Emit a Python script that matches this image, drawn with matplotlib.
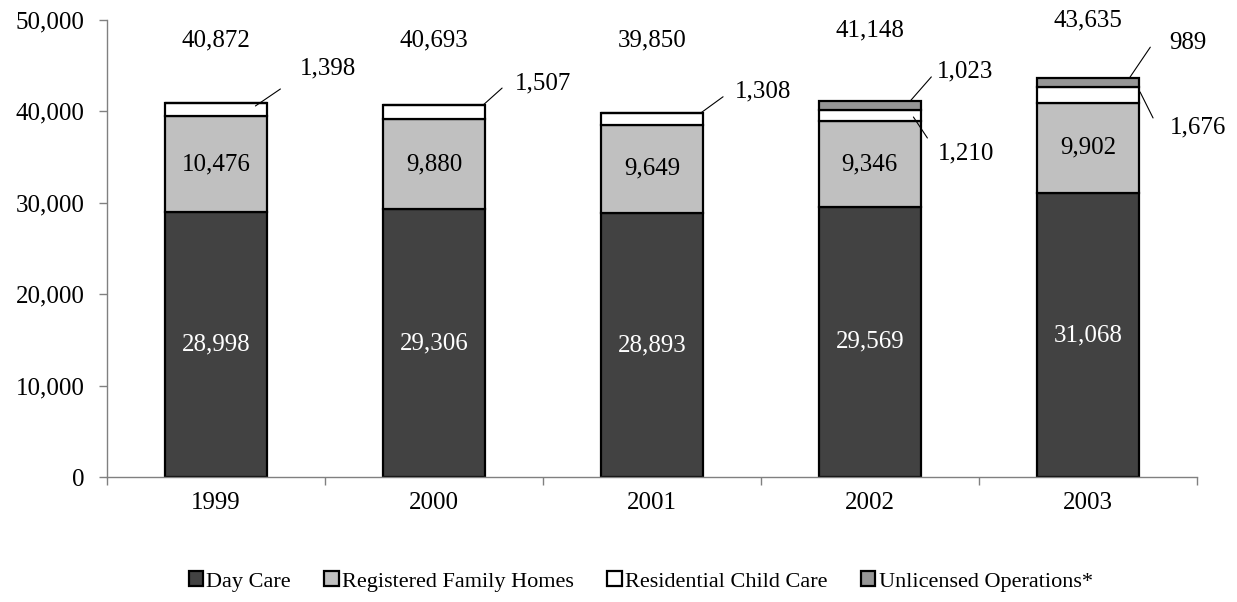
import matplotlib
matplotlib.use('Agg')
import matplotlib.pyplot as plt
import numpy as np
from matplotlib.patches import Patch

plt.rcParams['font.family'] = ['Liberation Serif', 'DejaVu Serif']

# data
years = ['1999', '2000', '2001', '2002', '2003']
day_care = [28998, 29306, 28893, 29569, 31068]
family_homes = [10476, 9880, 9649, 9346, 9902]
residential = [1398, 1507, 1308, 1210, 1676]
unlicensed = [0, 0, 0, 1023, 989]

series_names = ['Day Care', 'Registered Family Homes', 'Residential Child Care', 'Unlicensed Operations*']
colors = ['#424242', '#c0c0c0', '#ffffff', '#969696']

fs = 18
fig = plt.figure(figsize=(12.37, 6.02), dpi=100)
ax = fig.add_axes([0.0865, 0.2076, 0.881, 0.7592])

x = np.arange(len(years))
w = 0.47
all_series = [day_care, family_homes, residential, unlicensed]
bottoms = np.zeros(len(years))
seg_bottoms = []
for vals, c in zip(all_series, colors):
    vals = np.array(vals, dtype=float)
    ax.bar(x, vals, w, bottom=bottoms, color=c, edgecolor='black', linewidth=1.6, zorder=2)
    seg_bottoms.append(bottoms.copy())
    bottoms = bottoms + vals
totals = bottoms

# labels inside bars
for i in range(len(years)):
    ax.text(x[i], day_care[i] / 2, f'{day_care[i]:,}', ha='center', va='center',
            color='white', fontsize=fs)
    ax.text(x[i], day_care[i] + family_homes[i] / 2, f'{family_homes[i]:,}',
            ha='center', va='center', color='black', fontsize=fs)

# totals above bars
total_label_y = [47800, 47800, 47800, 48900, 50000]
for i in range(len(years)):
    ax.text(x[i], total_label_y[i], f'{int(totals[i]):,}', ha='center', va='center', fontsize=fs)

# leader-line labels: (bar, series idx, x frac of half width, y frac of segment, line end, text pos)
leaders = [
    (0, 2, 0.77, 0.8, (25, 17), (73, 38)),
    (1, 2, 0.96, 1.0, (19, 17), (60, 22)),
    (2, 2, 0.96, 1.0, (22, 16), (62, 21)),
    (3, 3, 0.79, 1.0, (21, 24), (55, 29)),
    (3, 2, 0.85, 0.39, (14, -21), (53, -36)),
    (4, 3, 0.81, 1.0, (21, 31), (59, 35)),
    (4, 2, 1.02, 0.69, (13, -26), (58, -35)),
]
for i, s, fx, fy, lend, tpos in leaders:
    val = all_series[s][i]
    x0 = x[i] + w / 2 * fx
    y0 = seg_bottoms[s][i] + val * fy
    ax.annotate('', xy=(x0, y0), xytext=lend, textcoords='offset pixels',
                arrowprops=dict(arrowstyle='-', lw=0.8, color='black', shrinkA=0, shrinkB=0))
    ax.annotate(f'{val:,}', xy=(x0, y0), xytext=tpos, textcoords='offset pixels',
                ha='center', va='center', fontsize=fs)

ax.set_xlim(-0.5, len(years) - 0.5)
ax.set_ylim(0, 50000)
ax.set_yticks(np.arange(0, 50001, 10000))
ax.set_yticklabels([f'{v:,}' for v in range(0, 50001, 10000)], fontsize=fs)
ax.set_xticks(np.arange(-0.5, len(years), 1.0))
ax.set_xticklabels([])
ax.set_xticks(x, minor=True)
ax.set_xticklabels(years, minor=True, fontsize=fs)
ax.tick_params(axis='x', which='minor', length=0, pad=11)
ax.tick_params(axis='both', which='major', length=6, width=1, color='#808080', direction='out')
ax.tick_params(axis='y', pad=10)
for side in ['top', 'right']:
    ax.spines[side].set_visible(False)
for side in ['left', 'bottom']:
    ax.spines[side].set_color('#808080')
    ax.spines[side].set_linewidth(1)

handles = [Patch(facecolor=c, edgecolor='black', linewidth=1.6) for c in colors]
fig.legend(handles, series_names, loc='center', bbox_to_anchor=(0.518, 0.034), ncol=4,
           frameon=False, fontsize=16, handlelength=0.65, handleheight=0.65,
           handletextpad=0.15, columnspacing=1.5)

fig.savefig('out.png', dpi=100)
